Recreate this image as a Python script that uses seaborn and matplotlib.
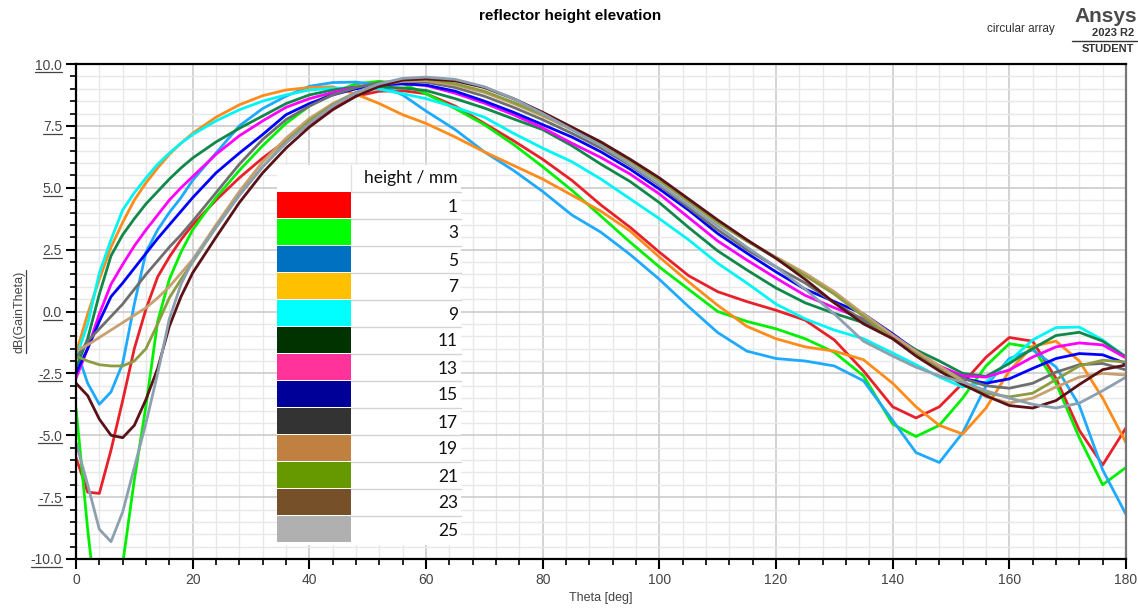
import numpy as np
import pandas as pd
import seaborn as sns
import matplotlib
matplotlib.use("Agg")
import matplotlib.pyplot as plt
from matplotlib.lines import Line2D
from matplotlib.patches import Rectangle
from matplotlib.transforms import IdentityTransform
from matplotlib.ticker import MultipleLocator, FormatStrFormatter

# Elevation angle (deg)
theta = [0, 2, 4, 6, 8, 10, 12, 14, 16, 18, 20,
         24, 28, 32, 36, 40, 44, 48, 52, 56, 60,
         65, 70, 75, 80, 85, 90, 95, 100, 105, 110, 115, 120, 125, 130, 135, 140,
         144, 148, 152, 156, 160, 164, 168, 172, 176, 180]

# dB(GainTheta) for each reflector height (mm)
gain_h1 = [-5.9, -7.3, -7.35, -5.6, -3.6, -1.5, 0.1, 1.4, 2.2, 2.9, 3.5,
           4.5, 5.4, 6.2, 6.9, 7.55, 8.2, 8.7, 8.9, 8.92, 8.8,
           8.3, 7.6, 6.9, 6.15, 5.3, 4.3, 3.4, 2.4, 1.45, 0.8, 0.4, 0.05, -0.35, -1.15, -2.4, -3.85,
           -4.3, -3.85, -2.9, -1.85, -1.05, -1.2, -2.7, -4.8, -6.2, -4.7]
gain_h3 = [-3.9, -8.8, -13.0, -13.5, -10.2, -6.8, -3.8, -0.4, 1.3, 2.4, 3.3,
           4.6, 5.7, 6.7, 7.6, 8.3, 8.85, 9.2, 9.3, 9.2, 8.8,
           8.2, 7.55, 6.75, 5.85, 4.9, 3.85, 2.8, 1.8, 0.9, 0.0, -0.4, -0.7, -1.1, -1.65, -2.6, -4.55,
           -5.05, -4.6, -3.5, -2.2, -1.3, -1.45, -2.9, -5.1, -7.0, -6.3]
gain_h5 = [-1.5, -2.9, -3.75, -3.25, -2.1, 0.3, 2.4, 3.3, 4.0, 4.6, 5.3,
           6.4, 7.5, 8.2, 8.7, 9.1, 9.25, 9.27, 9.15, 8.75, 8.1,
           7.35, 6.45, 5.7, 4.85, 3.9, 3.2, 2.3, 1.3, 0.2, -0.85, -1.6, -1.9, -2.0, -2.2, -2.8, -4.4,
           -5.7, -6.1, -4.9, -3.0, -1.9, -1.55, -2.24, -3.8, -6.4, -8.2]
gain_h7 = [-1.7, -0.1, 1.3, 2.6, 3.6, 4.5, 5.2, 5.8, 6.35, 6.8, 7.2,
           7.85, 8.35, 8.72, 8.95, 9.05, 9.08, 8.78, 8.4, 7.95, 7.6,
           7.05, 6.45, 5.9, 5.35, 4.7, 4.05, 3.25, 2.2, 1.2, 0.25, -0.6, -1.1, -1.43, -1.6, -1.95, -2.9,
           -3.85, -4.6, -4.95, -3.9, -2.4, -1.4, -1.2, -2.0, -3.5, -5.3]
gain_h9 = [-1.9, -0.5, 1.55, 2.9, 4.1, 4.8, 5.4, 5.95, 6.4, 6.8, 7.15,
           7.7, 8.15, 8.5, 8.75, 8.95, 9.02, 9.03, 8.98, 8.8, 8.6,
           8.25, 7.85, 7.2, 6.6, 6.05, 5.35, 4.55, 3.75, 2.9, 1.95, 1.15, 0.3, -0.3, -0.75, -1.1, -1.68,
           -2.15, -2.65, -3.05, -2.85, -2.0, -1.15, -0.65, -0.63, -1.15, -1.84]
gain_h11 = [-2.3, -1.1, 0.7, 2.25, 3.1, 3.75, 4.35, 4.85, 5.35, 5.8, 6.2,
            6.85, 7.4, 7.9, 8.4, 8.75, 8.95, 9.07, 9.08, 9.03, 8.93,
            8.6, 8.22, 7.78, 7.35, 6.7, 5.95, 5.25, 4.4, 3.4, 2.45, 1.68, 0.95, 0.35, -0.08, -0.45, -0.95,
            -1.55, -2.0, -2.5, -2.62, -2.1, -1.5, -0.97, -0.84, -1.2, -1.84]
gain_h13 = [-2.7, -1.5, -0.1, 1.1, 1.9, 2.65, 3.3, 3.9, 4.5, 5.0, 5.45,
            6.35, 7.1, 7.7, 8.25, 8.6, 8.85, 9.07, 9.18, 9.2, 9.13,
            8.82, 8.42, 7.95, 7.42, 6.8, 6.22, 5.55, 4.75, 3.8, 2.85, 2.08, 1.35, 0.65, 0.15, -0.3, -1.05,
            -1.65, -2.2, -2.6, -2.65, -2.36, -1.84, -1.43, -1.27, -1.35, -1.88]
gain_h15 = [-2.5, -1.5, -0.4, 0.6, 1.15, 1.75, 2.35, 2.95, 3.5, 4.05, 4.6,
            5.6, 6.4, 7.15, 7.95, 8.4, 8.75, 9.0, 9.15, 9.2, 9.15,
            8.9, 8.5, 8.05, 7.55, 7.05, 6.45, 5.75, 4.95, 4.1, 3.15, 2.36, 1.6, 0.9, 0.4, -0.1, -0.9,
            -1.6, -2.25, -2.7, -2.9, -2.72, -2.3, -1.9, -1.7, -1.75, -2.1]
gain_h17 = [-1.9, -1.2, -0.7, -0.2, 0.3, 0.9, 1.5, 2.05, 2.6, 3.1, 3.65,
            4.8, 5.95, 6.95, 7.75, 8.3, 8.75, 9.05, 9.25, 9.3, 9.27,
            9.05, 8.7, 8.25, 7.75, 7.2, 6.6, 5.9, 5.1, 4.2, 3.3, 2.5, 1.8, 1.15, 0.35, -0.35, -1.1,
            -1.7, -2.25, -2.7, -3.0, -3.1, -2.9, -2.45, -2.15, -2.1, -2.36]
gain_h19 = [-1.6, -1.35, -1.05, -0.75, -0.45, -0.15, 0.15, 0.55, 1.0, 1.55, 2.1,
            3.5, 4.85, 6.05, 7.0, 7.8, 8.4, 8.85, 9.15, 9.3, 9.33,
            9.15, 8.85, 8.4, 7.9, 7.35, 6.75, 6.05, 5.3, 4.45, 3.6, 2.85, 2.2, 1.55, 0.8, -0.1, -0.95,
            -1.6, -2.2, -2.8, -3.45, -3.7, -3.5, -3.05, -2.65, -2.5, -2.57]
gain_h21 = [-1.8, -2.0, -2.15, -2.2, -2.2, -2.0, -1.5, -0.5, 0.55, 1.3, 2.0,
            3.4, 4.7, 5.85, 6.85, 7.7, 8.35, 8.85, 9.2, 9.35, 9.38,
            9.2, 8.9, 8.45, 7.95, 7.4, 6.8, 6.1, 5.3, 4.45, 3.6, 2.85, 2.15, 1.45, 0.7, -0.2, -1.1,
            -1.75, -2.35, -2.9, -3.3, -3.45, -3.3, -2.75, -2.2, -1.97, -2.04]
gain_h23 = [-2.9, -3.4, -4.35, -5.0, -5.1, -4.6, -3.55, -2.3, -0.6, 0.6, 1.56,
            3.0, 4.4, 5.6, 6.6, 7.45, 8.15, 8.7, 9.1, 9.35, 9.4,
            9.32, 9.05, 8.6, 8.05, 7.45, 6.85, 6.15, 5.4, 4.55, 3.7, 2.9, 2.15, 1.3, 0.35, -0.5, -1.1,
            -1.8, -2.4, -2.95, -3.4, -3.8, -3.9, -3.6, -2.95, -2.35, -2.16]
gain_h25 = [-5.3, -7.0, -8.8, -9.3, -8.1, -6.3, -4.5, -2.5, -0.3, 1.1, 2.05,
            3.4, 4.7, 5.85, 6.8, 7.6, 8.3, 8.85, 9.2, 9.42, 9.47,
            9.38, 9.08, 8.6, 8.0, 7.35, 6.7, 5.95, 5.15, 4.3, 3.45, 2.6, 1.8, 0.9, -0.1, -1.2, -1.8,
            -2.25, -2.6, -2.85, -3.2, -3.5, -3.75, -3.9, -3.7, -3.2, -2.65]

heights = [1, 3, 5, 7, 9, 11, 13, 15, 17, 19, 21, 23, 25]
series = [gain_h1, gain_h3, gain_h5, gain_h7, gain_h9, gain_h11, gain_h13,
          gain_h15, gain_h17, gain_h19, gain_h21, gain_h23, gain_h25]

# trace colours on the plot
line_colors = ['#e8202a', '#00f000', '#1eaaff', '#ff8c1a', '#00f5f5', '#10884a',
               '#ff00ff', '#0000ff', '#6e6e6e', '#c8a070', '#8c9c40', '#5a1218', '#8ca0b0']
# swatch colours of the height table
table_colors = ['#ff0000', '#00ff00', '#0070c0', '#ffc000', '#00ffff', '#003300',
                '#ff3399', '#000099', '#333333', '#c08040', '#669900', '#765028', '#b0b0b0']
table_header = 'height / mm'

y_ticks = [-10.0, -7.5, -5.0, -2.5, 0.0, 2.5, 5.0, 7.5, 10.0]
x_ticks = [0, 20, 40, 60, 80, 100, 120, 140, 160, 180]

df = pd.DataFrame({
    'theta': np.tile(theta, len(heights)),
    'gain': np.concatenate(series),
    'height': np.repeat(heights, len(theta)),
})

sns.set_style('white')
plt.rcParams['font.family'] = ['Liberation Sans', 'DejaVu Sans']

W, H = 1138, 608
fig = plt.figure(figsize=(W / 100, H / 100), dpi=100)
L, R, T, B = 76, 1126, 64, 559
ax = fig.add_axes([L / W, 1 - B / H, (R - L) / W, (B - T) / H])

sns.lineplot(data=df, x='theta', y='gain', hue='height', hue_order=heights,
             palette=dict(zip(heights, line_colors)), linewidth=2.0,
             estimator=None, sort=False, legend=False, ax=ax)

ax.set_xlim(0, 180)
ax.set_ylim(-10, 10)
ax.set_xticks(x_ticks)
ax.set_yticks(y_ticks)
ax.xaxis.set_minor_locator(MultipleLocator(4))
ax.yaxis.set_minor_locator(MultipleLocator(0.5))
ax.yaxis.set_major_formatter(FormatStrFormatter('%.1f'))
ax.grid(which='major', color='#c8c8c8', linewidth=1.1)
ax.grid(which='minor', color='#e8e8e8', linewidth=1.0)
ax.set_axisbelow(True)
ax.tick_params(which='major', direction='out', length=7, width=1.5, color='black',
               labelsize=10, labelcolor='#444444', pad=3)
ax.tick_params(which='minor', direction='out', length=4, width=1.2, color='black')
ax.tick_params(axis='x', which='both', bottom=True)
ax.tick_params(axis='y', which='both', left=True)
for side in ['left', 'bottom', 'top']:
    ax.spines[side].set_color('black')
    ax.spines[side].set_linewidth(1.6)
ax.spines['right'].set_color('#777777')
ax.spines['right'].set_linewidth(1.6)

ax.set_xlabel('Theta [deg]', fontsize=9, color='#444444', labelpad=4)
ax.set_ylabel('dB(GainTheta)', fontsize=9, color='#444444', labelpad=4)

# titles and logo block
fig.text(570 / W, 1 - 16 / H, 'reflector height elevation', ha='center', va='center',
         fontsize=11, fontweight='bold', color='black')
fig.text(1055 / W, 1 - 29 / H, 'circular array', ha='right', va='center',
         fontsize=8.5, color='#333333')
fig.text(1137 / W, 1 - 17 / H, 'Ansys', ha='right', va='center',
         fontsize=15, fontweight='bold', color='#4a4a4a')
fig.text(1134 / W, 1 - 33 / H, '2023 R2', ha='right', va='center',
         fontsize=8, fontweight='bold', color='#333333')
fig.add_artist(Line2D([1072 / W, 1137 / W], [1 - 41 / H, 1 - 41 / H],
                      transform=fig.transFigure, color='#333333', linewidth=1.0))
fig.text(1134 / W, 1 - 49 / H, 'STUDENT', ha='right', va='center',
         fontsize=8, fontweight='bold', color='#333333')

# height table drawn over the plot area
tl, tr, tt, tb = 277, 461, 165, 545
sw_r = 351
row0, row_h = 192, 27.0
fig.add_artist(Rectangle((tl / W, 1 - tb / H), (tr - tl) / W, (tb - tt) / H,
                         transform=fig.transFigure, facecolor='white',
                         edgecolor='none', zorder=5))
fig.add_artist(Line2D([sw_r / W, sw_r / W], [1 - tt / H, 1 - row0 / H],
                      transform=fig.transFigure, color='#e0e0e0', linewidth=1, zorder=6))
fig.text((tr - 3) / W, 1 - (tt + row0) / 2 / H, table_header, ha='right', va='center',
         fontsize=12.5, family=['Lato', 'DejaVu Sans'], color='#111111', zorder=7)
for i, (h, c) in enumerate(zip(heights, table_colors)):
    top = row0 + i * row_h
    fig.add_artist(Rectangle((tl / W, 1 - (top + row_h - 1) / H), (sw_r - tl) / W,
                             (row_h - 1) / H, transform=fig.transFigure,
                             facecolor=c, edgecolor='none', zorder=6))
    fig.add_artist(Line2D([sw_r / W, tr / W], [1 - top / H, 1 - top / H],
                          transform=fig.transFigure, color='#d4d4d4', linewidth=1, zorder=6))
    fig.text((tr - 3) / W, 1 - (top + row_h / 2 + 1) / H, str(h), ha='right', va='center',
             fontsize=12.5, family=['Lato', 'DejaVu Sans'], color='#111111', zorder=7)

# underline the value-axis tick labels and axis title
fig.canvas.draw()
for lab in ax.get_yticklabels():
    if not lab.get_visible() or not lab.get_text():
        continue
    bb = lab.get_window_extent()
    fig.add_artist(Line2D([bb.x0, bb.x1], [bb.y0 + 0.5, bb.y0 + 0.5],
                          transform=IdentityTransform(), color='#444444', linewidth=0.9))
bb = ax.yaxis.label.get_window_extent()
fig.add_artist(Line2D([bb.x1 + 0.5, bb.x1 + 0.5], [bb.y0, bb.y1],
                      transform=IdentityTransform(), color='#444444', linewidth=0.9))

fig.savefig('out.png', dpi=100, facecolor='white')
